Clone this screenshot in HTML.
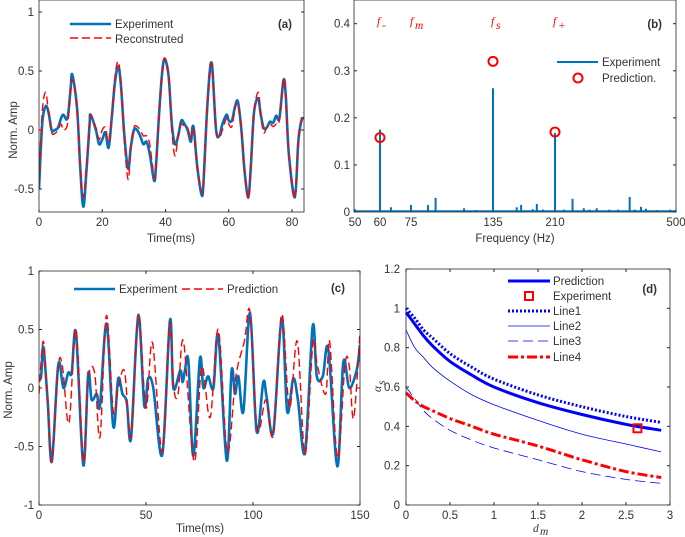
<!DOCTYPE html>
<html><head><meta charset="utf-8"><style>
html,body{margin:0;padding:0;background:#fff;}
svg{display:block;font-family:"Liberation Sans",sans-serif;}
text{fill:#333;font-size:11.5px;}
</style></head><body>
<svg id="fig" width="685" height="537" viewBox="0 0 685 537" xmlns="http://www.w3.org/2000/svg"></svg>
<script>
// ---- Panel (a) data ----
const aTime=[0,1,2.1,3,4,5,6,7,7.7,9,10,10.5,12,13,14,15,16,16.3,18,19,20,21,22,23,24,25.1,26,27,28.2,29,30,31,32,33,34,35,36.4,37,38,39,39.8,41,42,43,44,45,46,47,48,48.5,49,50,51.4,52,53,54,54.6,55,56,57,58,59.3,60,61,62,62.9,64,65,66.2,67,68,69.3,70,71,72,73,74,75,76,77.3,78,79,80.9,82,83,84];
const aExp=[-0.5,0.05,0.2,0.15,0,0,0.02,0.1,0.13,0.1,0.35,0.47,0.2,-0.3,-0.65,-0.35,0.05,0.13,0,-0.12,-0.08,-0.02,-0.15,0.1,0.4,0.54,0.35,-0.05,-0.33,-0.15,0,0,-0.05,-0.12,-0.1,-0.2,-0.43,-0.3,0.15,0.5,0.6,0.45,0.05,-0.12,-0.05,0.08,0.05,0,-0.1,0.02,0,-0.3,-0.55,-0.45,0.1,0.5,0.57,0.45,0,-0.05,0.05,0.13,0.08,0.08,0.2,0.24,0,-0.35,-0.57,-0.3,0.15,0.27,0.15,0.02,0.02,0.07,0.06,0.12,0.1,0.42,0.3,-0.2,-0.57,-0.1,0.08,0.1];
const aRec=[-0.45,0.15,0.32,0.15,-0.02,-0.03,0.0,0.05,0.0,0.05,0.32,0.43,0.2,-0.3,-0.57,-0.3,0.05,0.13,0.02,-0.08,0.0,0.02,-0.1,0.12,0.45,0.58,0.35,-0.1,-0.42,-0.15,0.02,0.03,0.0,-0.05,-0.05,-0.12,-0.4,-0.3,0.15,0.5,0.61,0.45,0.0,-0.22,-0.05,0.05,0.03,0.02,-0.08,0.0,-0.02,-0.3,-0.52,-0.45,0.1,0.5,0.56,0.45,0.0,-0.07,0.0,0.1,0.05,0.03,0.18,0.22,0.0,-0.35,-0.58,-0.3,0.15,0.32,0.15,-0.02,0.02,0.05,0.03,0.05,0.08,0.43,0.3,-0.2,-0.58,-0.1,0.1,0.15];
const aYTicks=[1,0.5,0,-0.5];
const aXTicks=[0,20,40,60,80];
// ---- Panel (b) data ----
const bFreq=[60,65.3,75,87.4,93,113.8,122.6,135,163.7,169,183,188,195.5,210,231.6,252,279,293,310,340,361,389,401,416,428,454,486];
const bAmp=[0.175,0.01,0.015,0.015,0.03,0.008,0.004,0.263,0.01,0.015,0.006,0.017,0.005,0.168,0.005,0.028,0.008,0.005,0.008,0.005,0.005,0.032,0.005,0.011,0.007,0.004,0.005];
const bPredFreq=[60,135,210];
const bPredAmp=[0.158,0.32,0.17];
const bXTicks=[50,60,75,135,210,500];
const bYTicks=[0,0.1,0.2,0.3,0.4];
// ---- Panel (c) data ----
const cExpT=[0,1,2,4,6,9,11.4,13.7,15.3,17.3,20.7,23,24.6,27,28.5,31.6,34.7,37,39,41,43,46.4,49.2,51,53.4,57.6,61.2,62.8,66,67.1,68.2,69.8,72.1,75.2,76.8,79,81.5,83.8,87.7,90,91.6,93.2,95.5,98.6,101.7,104.8,106.4,109.5,113.4,116,118.8,121,124.3,127.9,129.8,132.6,135.2,139.4,142.2,145,148.4,150];
const cExp=[0.08,0.1,0.35,-0.1,-0.63,0.2,0,0.13,0.13,0.47,-0.66,0.12,-0.1,-0.05,-0.15,0.55,-0.33,0.08,-0.05,-0.12,-0.43,0.62,-0.15,0.08,0,-0.57,0.58,0,0.15,0.05,0.15,0.23,-0.58,0.25,0,0.1,0,0.45,-0.62,0.15,-0.05,0.1,-0.2,0.64,-0.37,0.05,-0.08,-0.38,0.6,-0.2,0.08,-0.1,-0.55,0.53,0.1,0.1,0.33,-0.67,0.22,0,0.15,0.37];
const cPredT=[0,2,4,6,9,11,14,17.3,20.7,23,26,28.5,31.5,34.7,37,40,43,46.4,50,53,57.6,61,63,65,67.5,72.5,76,80,83.8,88,92,96,98.6,102,106,109.5,113.4,117,120.7,124.3,128,130,134,135.8,139.5,143,145,147,150];
const cPred=[-0.05,0.4,-0.1,-0.63,0.18,0.18,-0.3,0.5,-0.63,0.08,0.13,-0.42,0.62,-0.2,0.0,0.14,-0.42,0.63,-0.17,0.39,-0.55,0.55,0.0,-0.05,0.4,-0.63,0.18,-0.25,0.5,-0.55,0.1,0.4,0.65,-0.35,-0.1,-0.4,0.63,-0.17,0.4,-0.57,0.38,0.2,-0.05,0.4,-0.6,0.2,0.18,-0.26,0.47];
const cYTicks=[1,0.5,0,-0.5,-1];
const cXTicks=[0,50,100,150];
// ---- Panel (d) data ----
const dX=[0,0.1,0.2,0.3,0.5,0.75,1,1.5,2,2.5,2.9];
const dPred=[0.98,0.92,0.86,0.81,0.73,0.66,0.6,0.52,0.46,0.41,0.38];
const dLine1=[1.0,0.95,0.89,0.85,0.77,0.7,0.64,0.56,0.5,0.45,0.42];
const dLine2=[0.89,0.8,0.75,0.7,0.63,0.56,0.51,0.43,0.36,0.31,0.27];
const dLine3=[0.6,0.54,0.48,0.44,0.38,0.33,0.29,0.23,0.17,0.13,0.11];
const dLine4=[0.57,0.53,0.5,0.48,0.44,0.4,0.36,0.3,0.23,0.17,0.14];
const dExpX=[2.63];
const dExpY=[0.39];
const dYTicks=[0,0.2,0.4,0.6,0.8,1,1.2];
const dXTicks=[0,0.5,1,1.5,2,2.5,3];

const NS="http://www.w3.org/2000/svg";
const svg=document.getElementById('fig');
function mk(tag,attrs,parent){const e=document.createElementNS(NS,tag);for(const k in attrs)e.setAttribute(k,attrs[k]);(parent||svg).appendChild(e);return e;}
function txt(s,x,y,anchor,parent,extra){const e=mk('text',Object.assign({x:x,y:y,'text-anchor':anchor||'middle'},extra||{}),parent);e.textContent=s;return e;}
function lin(x0,x1,p0,p1){return v=>p0+(v-x0)/(x1-x0)*(p1-p0);}
function smooth(pts){let d='M'+pts[0][0].toFixed(1)+','+pts[0][1].toFixed(1);
 for(let i=0;i<pts.length-1;i++){const p0=pts[Math.max(0,i-1)],p1=pts[i],p2=pts[i+1],p3=pts[Math.min(pts.length-1,i+2)];
  const c1=[p1[0]+(p2[0]-p0[0])/6,p1[1]+(p2[1]-p0[1])/6],c2=[p2[0]-(p3[0]-p1[0])/6,p2[1]-(p3[1]-p1[1])/6];
  d+='C'+c1[0].toFixed(1)+','+c1[1].toFixed(1)+' '+c2[0].toFixed(1)+','+c2[1].toFixed(1)+' '+p2[0].toFixed(1)+','+p2[1].toFixed(1);}
 return d;}
function box(g,x0,y0,x1,y1){mk('rect',{x:x0,y:y0,width:x1-x0,height:y1-y0,fill:'none',stroke:'#262626','stroke-width':0.8},g);}
function clip(id,x0,y0,x1,y1){const c=mk('clipPath',{id:id});mk('rect',{x:x0,y:y0,width:x1-x0,height:y1-y0},c);}

// ===== Panel A =====
{const g=mk('g',{});


const L=39,R=304,T=0,B=212;const X=lin(0,80,39,292),Y=lin(0,0.5,130,71);
clip('ca',L,T,R,B);
aYTicks.forEach(v=>{txt(String(v),L-5,Y(v)+4,'end',g);mk('line',{x1:L,x2:L+3,y1:Y(v),y2:Y(v),stroke:'#262626'},g);mk('line',{x1:R,x2:R-3,y1:Y(v),y2:Y(v),stroke:'#262626'},g);});
aXTicks.forEach(v=>{txt(String(v),X(v),226,'middle',g);mk('line',{x1:X(v),x2:X(v),y1:B,y2:B-3,stroke:'#262626'},g);});
const pg=mk('g',{'clip-path':'url(#ca)'},g);
const pe=mk('path',{d:smooth(aTime.map((t,i)=>[X(t),Y(aExp[i])])),fill:'none',stroke:'#0072BD','stroke-width':2.6},pg);

const pr=mk('path',{d:smooth(aTime.map((t,i)=>[X(t),Y(aRec[i])])),fill:'none',stroke:'#ff0000','stroke-width':1.4,'stroke-dasharray':'8,4'},pg);

box(g,L,T,R,B);
txt('Time(ms)',171,242,'middle',g,{'font-size':'12.5'});
txt('Norm. Amp',17,130,'middle',g,{'font-size':'12.5',transform:'rotate(-90 17 130)'});
mk('line',{x1:70,x2:111,y1:24,y2:24,stroke:'#0072BD','stroke-width':2.6},g);
txt('Experiment',115,28,'start',g,{'font-size':'12'});
mk('line',{x1:70,x2:111,y1:38,y2:38,stroke:'#ff0000','stroke-width':1.4,'stroke-dasharray':'8,4'},g);
txt('Reconstruted',115,43,'start',g,{'font-size':'12'});
txt('(a)',292,28,'end',g,{'font-weight':'bold'});}

// ===== Panel B =====
{const g=mk('g',{});


const L=354,R=676,T=0,B=212;const tp=[355,380,411,493,555,676];
const X=f=>{for(let i=0;i<bXTicks.length-1;i++){if(f<=bXTicks[i+1])return lin(bXTicks[i],bXTicks[i+1],tp[i],tp[i+1])(f);}return tp[tp.length-1];};
const Y=lin(0,0.4,212,23.7);
bYTicks.forEach(v=>{txt(String(v),L-4,Y(v)+4,'end',g);mk('line',{x1:L,x2:L+3,y1:Y(v),y2:Y(v),stroke:'#262626'},g);mk('line',{x1:R,x2:R-3,y1:Y(v),y2:Y(v),stroke:'#262626'},g);});
bXTicks.forEach(v=>{txt(String(v),X(v),226,'middle',g);mk('line',{x1:X(v),x2:X(v),y1:B,y2:B-3,stroke:'#262626'},g);});
mk('line',{x1:L,x2:R,y1:B-1,y2:B-1,stroke:'#0072BD','stroke-width':1.5},g);
bFreq.forEach((f,i)=>{const l=mk('line',{x1:X(f),x2:X(f),y1:B,y2:Y(bAmp[i]),stroke:'#0072BD','stroke-width':2},g);
 });
bPredFreq.forEach((f,i)=>{const c=mk('circle',{cx:X(f),cy:Y(bPredAmp[i]),r:4.5,fill:'none',stroke:'#ff0000','stroke-width':2},g);
 });
box(g,L,T,R,B);
txt('Frequency (Hz)',515,242,'middle',g,{'font-size':'12.5'});
const fl=[['f','-',381],['f','m',414],['f','s',495],['f','+',557]];
fl.forEach(a=>{const t=mk('text',{x:a[2]-4,y:25,'font-family':'Liberation Serif,serif','font-style':'italic','font-size':'13',style:'fill:#ff0000'},g);t.textContent=a[0];
 const s=mk('text',{x:a[2]+1,y:29,'font-family':'Liberation Serif,serif','font-style':'italic','font-size':'10',style:'fill:#ff0000'},g);s.textContent=a[1];});
mk('line',{x1:557,x2:598,y1:62,y2:62,stroke:'#0072BD','stroke-width':2},g);
txt('Experiment',602,66,'start',g,{'font-size':'12'});
mk('circle',{cx:578,cy:78,r:4.5,fill:'none',stroke:'#ff0000','stroke-width':2},g);
txt('Prediction.',602,82,'start',g,{'font-size':'12'});
txt('(b)',662,28,'end',g,{'font-weight':'bold'});}

// ===== Panel C =====
{const g=mk('g',{});


const L=39,R=360,T=271,B=505;const X=lin(0,150,39,360),Y=lin(-1,1,505,271);
clip('cc',L,T,R,B);
cYTicks.forEach(v=>{txt(String(v),L-5,Y(v)+4,'end',g);mk('line',{x1:L,x2:L+3,y1:Y(v),y2:Y(v),stroke:'#262626'},g);mk('line',{x1:R,x2:R-3,y1:Y(v),y2:Y(v),stroke:'#262626'},g);});
cXTicks.forEach(v=>{txt(String(v),X(v),519,'middle',g);mk('line',{x1:X(v),x2:X(v),y1:B,y2:B-3,stroke:'#262626'},g);mk('line',{x1:X(v),x2:X(v),y1:T,y2:T+3,stroke:'#262626'},g);});
const pg=mk('g',{'clip-path':'url(#cc)'},g);
const pe=mk('path',{d:smooth(cExpT.map((t,i)=>[X(t),Y(cExp[i])])),fill:'none',stroke:'#0072BD','stroke-width':2.6},pg);

const pr=mk('path',{d:smooth(cPredT.map((t,i)=>[X(t),Y(cPred[i])])),fill:'none',stroke:'#ff0000','stroke-width':1.4,'stroke-dasharray':'8,4'},pg);

box(g,L,T,R,B);
txt('Time(ms)',200,532,'middle',g,{'font-size':'12.5'});
txt('Norm. Amp',12,390,'middle',g,{'font-size':'12.5',transform:'rotate(-90 12 390)'});
mk('line',{x1:74,x2:115,y1:289,y2:289,stroke:'#0072BD','stroke-width':2.6},g);
txt('Experiment',119,293,'start',g,{'font-size':'12'});
mk('line',{x1:182,x2:223,y1:289,y2:289,stroke:'#ff0000','stroke-width':1.4,'stroke-dasharray':'8,4'},g);
txt('Prediction',227,293,'start',g,{'font-size':'12'});
txt('(c)',345,292,'end',g,{'font-weight':'bold'});}

// ===== Panel D =====
{const g=mk('g',{});


const L=406,R=670,T=269,B=505;const X=lin(0,3,406,670),Y=lin(0,1.2,505,269);
dYTicks.forEach(v=>{txt(String(v),L-6,Y(v)+4,'end',g);mk('line',{x1:L,x2:L+3,y1:Y(v),y2:Y(v),stroke:'#262626'},g);mk('line',{x1:R,x2:R-3,y1:Y(v),y2:Y(v),stroke:'#262626'},g);});
dXTicks.forEach(v=>{txt(String(v),X(v),519,'middle',g);mk('line',{x1:X(v),x2:X(v),y1:B,y2:B-3,stroke:'#262626'},g);mk('line',{x1:X(v),x2:X(v),y1:T,y2:T+3,stroke:'#262626'},g);});
const st={pred:{stroke:'#0000ff','stroke-width':3},l1:{stroke:'#0000ff','stroke-width':3,'stroke-dasharray':'2,2'},l2:{stroke:'#0000ff','stroke-width':0.8},l3:{stroke:'#0000ff','stroke-width':0.8,'stroke-dasharray':'10,5'},l4:{stroke:'#ff0000','stroke-width':3,'stroke-dasharray':'10,3,3,3'}};
[[dLine3,'l3','line3'],[dLine2,'l2','line2'],[dLine4,'l4','line4'],[dLine1,'l1','line1'],[dPred,'pred','prediction-line']].forEach(a=>{
 const p=mk('path',Object.assign({d:smooth(dX.map((x,i)=>[X(x),Y(a[0][i])])),fill:'none'},st[a[1]]),g);
 });
dExpX.forEach((x,i)=>{const r=mk('rect',{x:X(x)-4,y:Y(dExpY[i])-4,width:8,height:8,fill:'none',stroke:'#ff0000','stroke-width':2},g);
 });
box(g,L,T,R,B);
const dm=mk('text',{x:533,y:532,'font-family':'Liberation Serif,serif','font-style':'italic','font-size':'13'},g);dm.textContent='d';
const dms=mk('text',{x:540,y:535,'font-family':'Liberation Serif,serif','font-style':'italic','font-size':'9'},g);dms.textContent='m';
const al=mk('text',{x:381,y:392,'font-family':'Liberation Serif,serif','font-style':'italic','font-size':'13',transform:'rotate(-90 381 392)'},g);al.textContent='α';
const als=mk('text',{x:385,y:385,'font-family':'Liberation Serif,serif','font-style':'italic','font-size':'9',transform:'rotate(-90 385 385)'},g);als.textContent='s';
const rows=[['Prediction','pred',281],['Experiment',null,296],['Line1','l1',311],['Line2','l2',326],['Line3','l3',341],['Line4','l4',357]];
rows.forEach(r=>{if(r[1])mk('line',Object.assign({x1:508,x2:550,y1:r[2],y2:r[2]},st[r[1]]),g);
 else mk('rect',{x:525,y:r[2]-4,width:8,height:8,fill:'none',stroke:'#ff0000','stroke-width':2},g);
 txt(r[0],553,r[2]+4,'start',g,{'font-size':'12'});});
txt('(d)',657,293,'end',g,{'font-weight':'bold'});}
</script>
</body></html>
